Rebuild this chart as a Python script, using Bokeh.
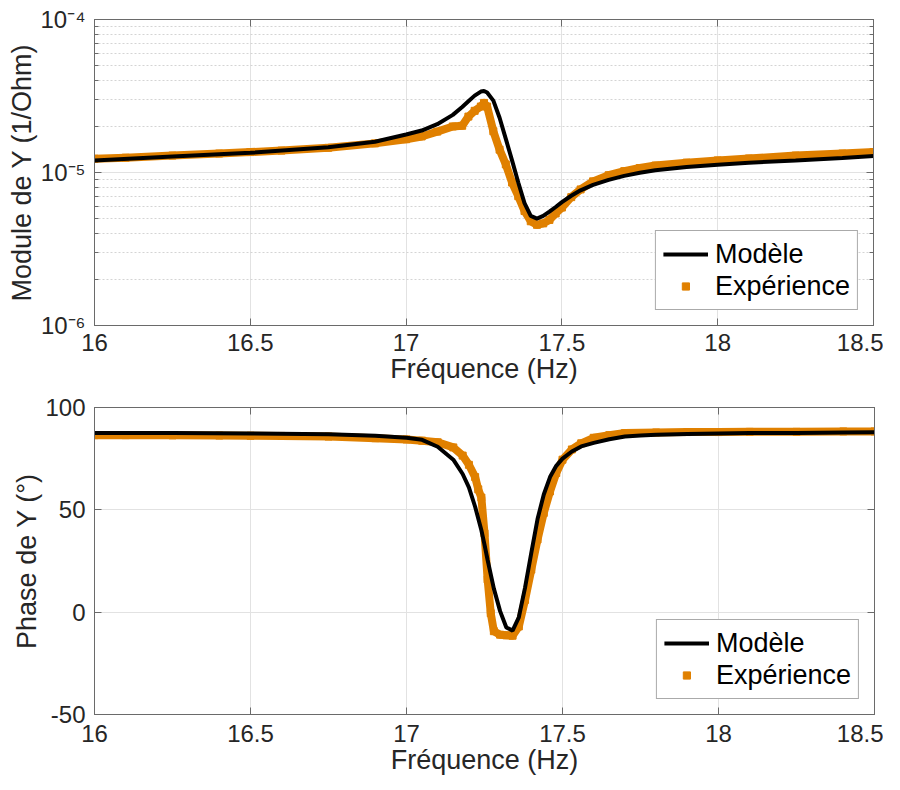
from bokeh.plotting import figure
from bokeh.models import (FixedTicker, CustomJSTickFormatter, Legend, LegendItem,
                          LinearAxis, LogAxis, Range1d)
from bokeh.layouts import column
from bokeh.embed import file_html
from bokeh.resources import INLINE

# ---------------- data ----------------
f_model = [16.0, 16.25, 16.5, 16.75, 16.9, 17.0, 17.05, 17.1, 17.15, 17.18, 17.2,
           17.22, 17.24, 17.25, 17.26, 17.28, 17.30, 17.32, 17.34, 17.36, 17.38,
           17.40, 17.42, 17.44, 17.46, 17.48, 17.50, 17.53, 17.56, 17.60, 17.65,
           17.70, 17.75, 17.80, 17.90, 18.0, 18.1, 18.25, 18.4, 18.5]
mod_model = [1.20e-5, 1.27e-5, 1.345e-5, 1.46e-5, 1.59e-5, 1.77e-5, 1.88e-5, 2.07e-5,
             2.38e-5, 2.68e-5, 2.92e-5, 3.18e-5, 3.38e-5, 3.41e-5, 3.33e-5, 2.95e-5,
             2.28e-5, 1.66e-5, 1.20e-5, 8.6e-6, 6.3e-6, 5.2e-6, 5.0e-6, 5.2e-6,
             5.55e-6, 5.95e-6, 6.4e-6, 7.05e-6, 7.65e-6, 8.3e-6, 8.95e-6,
             9.5e-6, 9.95e-6, 1.035e-5, 1.085e-5, 1.125e-5, 1.16e-5, 1.20e-5, 1.245e-5, 1.28e-5]
phase_model = [87.6, 87.5, 87.3, 86.9, 86.2, 85.2, 84.2, 80.8, 74.5, 67.5, 61.0,
               51.5, 40.0, 33.0, 25.5, 11.5, 0.5, -7.5, -9.0, -2.5, 12.0,
               29.0, 45.5, 57.5, 66.0, 71.5, 75.0, 78.5, 81.0, 82.7, 84.5,
               85.8, 86.3, 86.7, 87.0, 87.3, 87.5, 87.6, 87.8, 87.9]

f_exp_mod = [16.0, 16.1, 16.25, 16.4, 16.5, 16.6, 16.75, 16.9, 17.0, 17.05, 17.1,
             17.15, 17.18, 17.2, 17.22, 17.24, 17.25, 17.26, 17.28, 17.30, 17.32,
             17.34, 17.36, 17.38, 17.40, 17.42, 17.44, 17.46, 17.48, 17.50, 17.53,
             17.56, 17.60, 17.65, 17.70, 17.75, 17.80, 17.90, 18.0, 18.1, 18.25, 18.4, 18.5]
mod_exp = [1.23e-5, 1.25e-5, 1.29e-5, 1.33e-5, 1.36e-5, 1.39e-5, 1.45e-5, 1.55e-5,
           1.65e-5, 1.72e-5, 1.85e-5, 2.0e-5, 2.02e-5, 2.32e-5, 2.53e-5, 2.70e-5,
           2.85e-5, 2.70e-5, 1.86e-5, 1.41e-5, 1.13e-5, 8.6e-6, 7.0e-6, 5.6e-6,
           4.8e-6, 4.55e-6, 4.65e-6, 4.9e-6, 5.4e-6, 5.9e-6, 6.9e-6,
           7.75e-6, 8.75e-6, 9.6e-6, 1.02e-5, 1.07e-5, 1.11e-5, 1.16e-5, 1.20e-5,
           1.235e-5, 1.29e-5, 1.33e-5, 1.36e-5]

f_exp_phase = [16.0, 16.1, 16.25, 16.4, 16.5, 16.6, 16.75, 16.9, 17.0, 17.05, 17.1,
               17.15, 17.18, 17.2, 17.22, 17.23, 17.24, 17.25, 17.26, 17.27, 17.28,
               17.30, 17.32, 17.34, 17.36, 17.38, 17.40, 17.42, 17.44, 17.46, 17.48,
               17.50, 17.53, 17.56, 17.60, 17.65, 17.70, 17.80, 17.90, 18.0, 18.1,
               18.25, 18.4, 18.5]
phase_exp = [86.5, 86.5, 86.4, 86.3, 86.2, 86.1, 85.8, 85.0, 84.4, 83.8, 83.0,
             80.5, 76.5, 72.0, 66.0, 60.0, 56.0, 38.5, 16.0, -0.5, -9.3,
             -11.0, -11.3, -11.5, -7.0, 6.0, 20.8, 35.5, 48.5, 59.0, 68.0,
             74.5, 79.5, 82.5, 85.2, 86.5, 87.5, 87.8, 88.0, 88.0, 88.1,
             88.1, 88.3, 88.3]

x_ticks = [16, 16.5, 17, 17.5, 18, 18.5]
mod_ticks = [1e-6, 1e-5, 1e-4]
mod_minor_ticks = [m * 10.0 ** e for e in (-6, -5) for m in range(2, 10)]
phase_ticks = [-50, 0, 50, 100]

# ---------------- styles ----------------
FONT = "Liberation Sans"
ORANGE = "#E08000"
TXT = "#262626"
AXC = "#6a6a6a"
GRID = "#e2e2e2"

num_fmt = CustomJSTickFormatter(code="return tick.toString();")
sup_fmt = CustomJSTickFormatter(code="""
const e = Math.round(Math.log10(tick));
const m = {"-":"⁻","0":"⁰","1":"¹","2":"²","3":"³","4":"⁴","5":"⁵","6":"⁶","7":"⁷","8":"⁸","9":"⁹"};
return "10" + String(e).split("").map(c => m[c]).join("");
""")
blank_fmt = CustomJSTickFormatter(code="return '';")


def style_axis(ax, label=True):
    ax.axis_line_color = AXC
    ax.axis_line_width = 1
    ax.major_tick_line_color = AXC
    ax.minor_tick_line_color = AXC
    ax.major_tick_in = 7
    ax.major_tick_out = 0
    ax.minor_tick_in = 4
    ax.minor_tick_out = 0
    ax.major_label_text_font = FONT
    ax.major_label_text_font_size = "24px"
    ax.major_label_text_color = TXT
    ax.axis_label_text_font = FONT
    ax.axis_label_text_font_size = "27px"
    ax.axis_label_text_font_style = "normal"
    ax.axis_label_text_color = TXT
    if not label:
        ax.major_label_text_font_size = "1px"
        ax.major_label_standoff = 0


def make_fig(log, frame_h, top_b, bottom_b, left_b, frame_w, x_standoff):
    kw = dict(frame_width=frame_w, frame_height=frame_h,
              x_range=Range1d(16, 18.5),
              output_backend="svg", toolbar_location=None,
              min_border_left=left_b, min_border_right=10,
              min_border_top=top_b, min_border_bottom=bottom_b,
              background_fill_color="white", border_fill_color="white")
    if log:
        p = figure(y_axis_type="log", y_range=Range1d(1e-6, 1e-4), **kw)
    else:
        p = figure(y_range=Range1d(-50, 100), **kw)
    p.outline_line_color = AXC
    p.xaxis.ticker = FixedTicker(ticks=x_ticks)
    p.xaxis.formatter = num_fmt
    p.xaxis.axis_label = "Fréquence (Hz)"
    p.xaxis.major_label_standoff = x_standoff
    p.xaxis.axis_label_standoff = 0
    p.yaxis.major_label_standoff = 9
    p.yaxis.axis_label_standoff = 0
    style_axis(p.xaxis[0])
    style_axis(p.yaxis[0])
    p.xgrid.grid_line_color = GRID
    p.ygrid.grid_line_color = GRID
    return p


# ---------------- top: module ----------------
p1 = make_fig(True, 306, 19, 68, 94, 779, 8)
p1.yaxis.ticker = FixedTicker(ticks=mod_ticks, minor_ticks=mod_minor_ticks)
p1.yaxis.formatter = sup_fmt
p1.yaxis.axis_label = "Module de Y (1/Ohm)"
p1.ygrid.minor_grid_line_color = "#d4d4d4"
p1.ygrid.minor_grid_line_dash = "2 2"

top_ax1 = LinearAxis(ticker=FixedTicker(ticks=x_ticks), formatter=blank_fmt)
style_axis(top_ax1, label=False)
p1.add_layout(top_ax1, "above")
right_ax1 = LogAxis(ticker=FixedTicker(ticks=mod_ticks, minor_ticks=mod_minor_ticks),
                    formatter=blank_fmt)
style_axis(right_ax1, label=False)
p1.add_layout(right_ax1, "right")

e1l = p1.line(f_exp_mod, mod_exp, line_width=8, color=ORANGE, line_join="round", line_cap="round")
e1 = p1.scatter(f_exp_mod, mod_exp, marker="square", size=7, color=ORANGE)
m1 = p1.line(f_model, mod_model, line_width=4, color="black")

# ---------------- bottom: phase ----------------
p2 = make_fig(False, 307, 14, 70, 93, 780, 10)
p2.yaxis.ticker = FixedTicker(ticks=phase_ticks)
p2.yaxis.formatter = num_fmt
p2.yaxis.axis_label = "Phase de Y (°)"

top_ax2 = LinearAxis(ticker=FixedTicker(ticks=x_ticks), formatter=blank_fmt)
style_axis(top_ax2, label=False)
p2.add_layout(top_ax2, "above")
right_ax2 = LinearAxis(ticker=FixedTicker(ticks=phase_ticks), formatter=blank_fmt)
style_axis(right_ax2, label=False)
p2.add_layout(right_ax2, "right")

e2l = p2.line(f_exp_phase, phase_exp, line_width=8, color=ORANGE, line_join="round", line_cap="round")
e2 = p2.scatter(f_exp_phase, phase_exp, marker="square", size=7, color=ORANGE)
m2 = p2.line(f_model, phase_model, line_width=4, color="black")


def add_legend(p, mr, er):
    lg = Legend(items=[LegendItem(label="Modèle", renderers=[mr]),
                       LegendItem(label="Expérience", renderers=[er])],
                location="bottom_right")
    lg.label_text_font = FONT
    lg.label_text_font_size = "27px"
    lg.label_text_color = "black"
    lg.label_text_baseline = "middle"
    lg.glyph_width = 45
    lg.glyph_height = 18
    lg.label_height = 32
    lg.label_standoff = 7
    lg.padding = 7
    lg.spacing = 0
    lg.margin = 15
    lg.border_line_color = "#555555"
    lg.border_line_width = 1
    lg.background_fill_color = "white"
    lg.background_fill_alpha = 1
    p.add_layout(lg)


add_legend(p1, m1, e1)
add_legend(p2, m2, e2)

layout = column(p1, p2, spacing=0)
open("out.html", "w").write(file_html(layout, INLINE))
